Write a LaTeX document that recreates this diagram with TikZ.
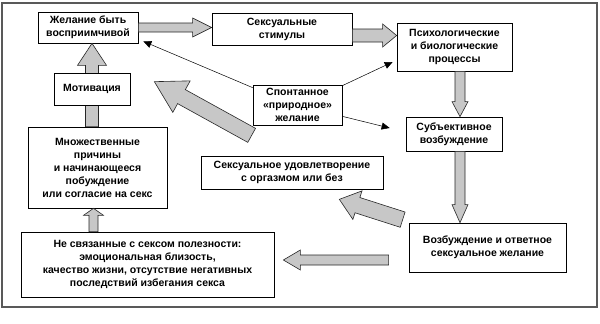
\documentclass[tikz,border=0pt]{standalone}
\usepackage{fontspec}
\setmainfont{Liberation Sans}
\usetikzlibrary{calc,arrows.meta}

\newcommand{\boxfont}{\fontsize{10.5}{13}\selectfont\bfseries}
% block arrow: start, tip, half shaft, half head, head length
\newcommand{\fatarrow}[5]{%
  \coordinate (fa-base) at ($(#2)!#5!(#1)$);
  \draw[fatarrow] ($(#1)!#3!90:(#2)$) -- ($(fa-base)!#3!90:(#2)$)
    -- ($(fa-base)!#4!90:(#2)$) -- (#2) -- ($(fa-base)!#4!-90:(#2)$)
    -- ($(fa-base)!#3!-90:(#2)$) -- ($(#1)!#3!-90:(#2)$) -- cycle;}

\tikzset{
  box/.style={draw, line width=0.7pt, fill=white, align=center, inner sep=2pt, font=\boxfont},
  fatarrow/.style={draw=black!85, line width=0.6pt, fill=black!22},
  thinarrow/.style={-{Triangle[length=8pt,width=7pt]}, line width=0.5pt},
}

\begin{document}
\begin{tikzpicture}[x=1pt,y=-1pt]
\useasboundingbox (0,0) rectangle (600,324);
\draw[line width=1.2pt, black!65] (2,3) rectangle (597,307);

\node[box, minimum width=100pt, minimum height=31pt] (receptive) at (88,27.5) {Желание быть\\восприимчивой};
\node[box, minimum width=140pt, minimum height=32pt] (stimuli) at (282,29) {Сексуальные\\стимулы};
\node[box, minimum width=115pt, minimum height=48pt] (psych) at (454.5,47) {Психологические\\и биологические\\процессы};
\node[box, minimum width=89pt, minimum height=40pt] (spont) at (297.5,105) {Спонтанное\\«природное»\\желание};
\node[box, minimum width=96pt, minimum height=34pt] (subj) at (454,134) {Субъективное\\возбуждение};
\node[box, minimum width=139pt, minimum height=81pt] (reasons) at (97.5,167.5) {Множественные\\причины\\и начинающееся\\побуждение\\или согласие на секс};
\node[box, minimum width=182pt, minimum height=33pt] (satisf) at (292,172.5) {Сексуальное удовлетворение\\с оргазмом или без};
\node[box, minimum width=253pt, minimum height=65pt] (nonsex) at (147.5,264.5) {Не связанные с сексом полезности:\\эмоциональная близость,\\качество жизни, отсутствие негативных\\последствий избегания секса};
\node[box, minimum width=157pt, minimum height=49pt] (arousal) at (487.5,247.5) {Возбуждение и ответное\\сексуальное желание};

% motivation column, box on top of the arrow
\coordinate (a9s) at (92,0 |- reasons.north);
\coordinate (a9t) at (92,0 |- receptive.south);
\fatarrow{a9s}{a9t}{6.5pt}{14.5pt}{22pt}
\node[box, minimum width=76pt, minimum height=32pt] (motiv) at (92,89) {Мотивация};

% block arrows
\coordinate (a1s) at (receptive.east);
\coordinate (a1t) at (stimuli.west |- receptive.east);
\fatarrow{a1s}{a1t}{4.5pt}{9.5pt}{19pt}
\coordinate (a2s) at ($(stimuli.east)+(0,6.5)$);
\coordinate (a2t) at (psych.west |- a2s);
\fatarrow{a2s}{a2t}{6.5pt}{11.5pt}{14pt}
\coordinate (a3s) at ($(psych.south)+(5.5,0)$);
\coordinate (a3t) at (a3s |- subj.north);
\fatarrow{a3s}{a3t}{5pt}{8pt}{15pt}
\coordinate (a4s) at (a3s |- subj.south);
\coordinate (a4t) at (a3s |- arousal.north);
\fatarrow{a4s}{a4t}{5pt}{8pt}{18pt}
\coordinate (a5s) at ($(arousal.west)+(-20,12.5)$);
\coordinate (a5t) at ($(nonsex.east |- a5s)+(9,0)$);
\fatarrow{a5s}{a5t}{5pt}{10pt}{17pt}
\coordinate (a6s) at ($(arousal.north west)+(-6,-3)$);
\coordinate (a6t) at ($(satisf.south east)+(-44,10)$);
\fatarrow{a6s}{a6t}{8pt}{15pt}{19pt}
\coordinate (a7s) at ($(spont.south west)+(-1,10)$);
\coordinate (a7t) at ($(motiv.north east)+(24,9)$);
\fatarrow{a7s}{a7t}{8pt}{18pt}{31pt}
\coordinate (a8t) at ($(reasons.south)+(-4,0)$);
\coordinate (a8s) at (a8t |- nonsex.north);
\fatarrow{a8s}{a8t}{4.5pt}{10pt}{7pt}

% spontaneous desire
\coordinate (t1) at ($(receptive.south east)+(5,-2)$);
\coordinate (t2) at ($(psych.west)+(-4,15)$);
\coordinate (t3) at ($(subj.west)+(-16,-6)$);
\draw[thinarrow] ($(spont.north west)+(0,3)$) -- (t1);
\draw[thinarrow] ($(spont.north east)+(0,1)$) -- (t2);
\draw[thinarrow] ($(spont.south east)+(0,-9)$) -- (t3);
\end{tikzpicture}
\end{document}
